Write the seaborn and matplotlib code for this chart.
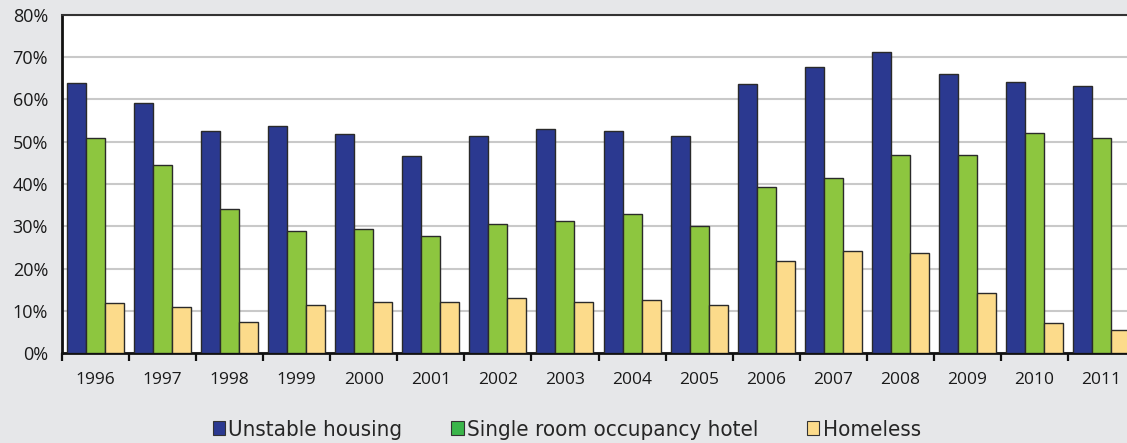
import matplotlib
matplotlib.use("Agg")
import matplotlib.pyplot as plt
import seaborn as sns
import pandas as pd
import numpy as np
from matplotlib.patches import Patch

years = ["1996", "1997", "1998", "1999", "2000", "2001", "2002", "2003",
         "2004", "2005", "2006", "2007", "2008", "2009", "2010", "2011"]
unstable = [64.0, 59.2, 52.5, 53.7, 51.8, 46.6, 51.4, 53.0,
            52.5, 51.4, 63.7, 67.7, 71.2, 66.0, 64.1, 63.2]
sro = [51.0, 44.5, 34.0, 28.9, 29.3, 27.7, 30.5, 31.3,
       32.9, 30.1, 39.2, 41.4, 46.9, 46.9, 52.0, 50.9]
homeless = [11.8, 11.0, 7.3, 11.4, 12.1, 12.1, 12.9, 12.1,
            12.5, 11.4, 21.8, 24.2, 23.7, 14.1, 7.0, 5.4]
series = ["Unstable housing", "Single room occupancy hotel", "Homeless"]
y_ticks = [0, 10, 20, 30, 40, 50, 60, 70, 80]

colors = ["#2b3990", "#8dc63f", "#fcdb8b"]
legend_colors = ["#2b3990", "#3ab54a", "#fcdb8b"]
bg = "#e6e7e9"

df = pd.DataFrame({
    "year": years * 3,
    "value": unstable + sro + homeless,
    "series": [series[0]] * len(years) + [series[1]] * len(years) + [series[2]] * len(years),
})

sns.set_theme(style="white")
plt.rcParams["font.family"] = ["Open Sans", "DejaVu Sans"]

fig = plt.figure(figsize=(11.27, 4.43), dpi=100, facecolor=bg)
ax = fig.add_axes([62 / 1127, 1 - 353 / 443, (1135 - 62) / 1127, (353 - 15) / 443])
ax.set_facecolor("white")

sns.barplot(data=df, x="year", y="value", hue="series", order=years,
            hue_order=series, palette=colors, width=0.85, edgecolor="#2a2a2a",
            linewidth=1.0, saturation=1, legend=False, ax=ax, zorder=3)

ax.set_ylim(0, 80)
ax.set_xlim(-0.5, len(years) - 0.5)
ax.set_yticks(y_ticks)
ax.set_yticklabels([f"{v}%" for v in y_ticks], fontsize=13, color="#1a1a1a")
ax.yaxis.grid(True, color="#c9c9c9", linewidth=1.5, zorder=0)
ax.set_axisbelow(True)
ax.tick_params(axis="y", length=0, pad=10)

ax.set_xticks(range(len(years)))
ax.set_xticklabels(years, fontsize=12.5, color="#1a1a1a")
ax.tick_params(axis="x", which="major", length=0, pad=14)
ax.set_xticks(np.arange(-0.5, len(years), 1), minor=True)
ax.tick_params(axis="x", which="minor", bottom=True, length=6, width=1.6,
               color="#111111", direction="out")

ax.set_xlabel("")
ax.set_ylabel("")
for s in ["left", "bottom"]:
    ax.spines[s].set_color("#111111")
    ax.spines[s].set_linewidth(2.0)
ax.spines["top"].set_color("#333333")
ax.spines["top"].set_linewidth(1.5)
ax.spines["right"].set_visible(False)

handles = [Patch(facecolor=c, edgecolor="#333333", linewidth=0.8, label=l)
           for c, l in zip(legend_colors, series)]
fig.legend(handles=handles, loc="center", bbox_to_anchor=(0.503, 1 - 430 / 443),
           ncol=3, frameon=False, handlelength=0.55, handleheight=0.55,
           handletextpad=0.15, columnspacing=2.2,
           prop={"family": ["DejaVu Sans"], "stretch": "condensed", "size": 16})

fig.savefig("out.png", dpi=100, facecolor=bg)
